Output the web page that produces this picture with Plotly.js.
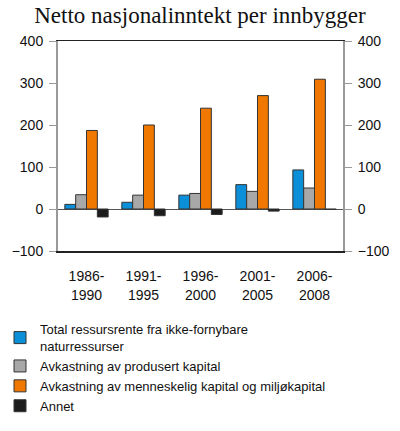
<!DOCTYPE html>
<html>
<head>
<meta charset="utf-8">
<script src="https://cdn.plot.ly/plotly-3.0.1.min.js"></script>
<style>
  html, body { margin: 0; padding: 0; background: #fff; }
  #chart { width: 400px; height: 431px; }
</style>
</head>
<body>
<div id="chart"></div>
<script>
// Periods on the x axis
const periods = ['1986-<br>1990', '1991-<br>1995', '1996-<br>2000', '2001-<br>2005', '2006-<br>2008'];

// Series values
const ressursrente = [11, 16, 33, 58, 93];
const produsertKapital = [34, 33, 37, 42, 50];
const menneskeligKapital = [187, 200, 240, 270, 309];
const annet = [-19, -16, -13, -5, -1];

const seriesNames = [
  'Total ressursrente fra ikke-fornybare<br>naturressurser',
  'Avkastning av produsert kapital',
  'Avkastning av menneskelig kapital og miljøkapital',
  'Annet'
];
const seriesColors = ['#0b8fd8', '#a8a8a8', '#f07800', '#1c1c1c'];

const yTicks = [-100, 0, 100, 200, 300, 400];

const traces = [ressursrente, produsertKapital, menneskeligKapital, annet].map((vals, i) => ({
  x: periods,
  y: vals,
  type: 'bar',
  name: seriesNames[i],
  legendgroup: 'g' + i,
  marker: { color: seriesColors[i], line: { color: '#333', width: 1 } },
  hoverinfo: 'skip'
}));

// invisible trace so the right axis is drawn
traces.push({
  x: periods, y: [null, null, null, null, null], yaxis: 'y2',
  type: 'scatter', mode: 'markers', showlegend: false, hoverinfo: 'skip'
});

const axisFont = { family: 'Liberation Sans, Arial', size: 14, color: '#111' };

const layout = {
  width: 400,
  height: 431,
  margin: { l: 58, r: 57, t: 41, b: 180 },
  paper_bgcolor: '#fff',
  plot_bgcolor: '#fff',
  showlegend: true,
  barmode: 'group',
  bargap: 0.24,
  bargroupgap: 0,
  title: {
    text: 'Netto nasjonalinntekt per innbygger',
    font: { family: 'Liberation Serif, Times New Roman', size: 23, color: '#111' },
    x: 0.5,
    xanchor: 'center',
    y: 0.985,
    yanchor: 'top'
  },
  xaxis: {
    tickfont: axisFont,
    showgrid: false,
    ticks: '',
    ticklabelstandoff: 12,
    showline: true,
    linecolor: '#222',
    linewidth: 1.5,
    mirror: true,
    fixedrange: true
  },
  yaxis: {
    range: [-100, 400],
    tickvals: yTicks,
    tickfont: axisFont,
    showgrid: false,
    ticks: 'outside',
    ticklen: 7,
    tickcolor: '#999',
    ticklabelstandoff: 3,
    showline: true,
    linecolor: '#999',
    linewidth: 2,
    zeroline: true,
    zerolinecolor: '#555',
    zerolinewidth: 1,
    fixedrange: true
  },
  yaxis2: {
    overlaying: 'y',
    side: 'right',
    anchor: 'x',
    range: [-100, 400],
    tickvals: yTicks,
    tickfont: axisFont,
    showgrid: false,
    zeroline: false,
    ticks: 'outside',
    ticklen: 7,
    tickcolor: '#999',
    ticklabelstandoff: 3,
    showline: true,
    linecolor: '#999',
    linewidth: 2,
    fixedrange: true
  },
  legend: {
    orientation: 'v',
    xref: 'paper',
    x: -0.225,
    xanchor: 'left',
    yref: 'container',
    y: 0.271,
    yanchor: 'top',
    font: { family: 'Liberation Sans, Arial', size: 13, color: '#111' },
    tracegroupgap: 8,
    traceorder: 'normal'
  }
};

Plotly.newPlot('chart', traces, layout, { displayModeBar: false, staticPlot: true });
</script>
</body>
</html>
